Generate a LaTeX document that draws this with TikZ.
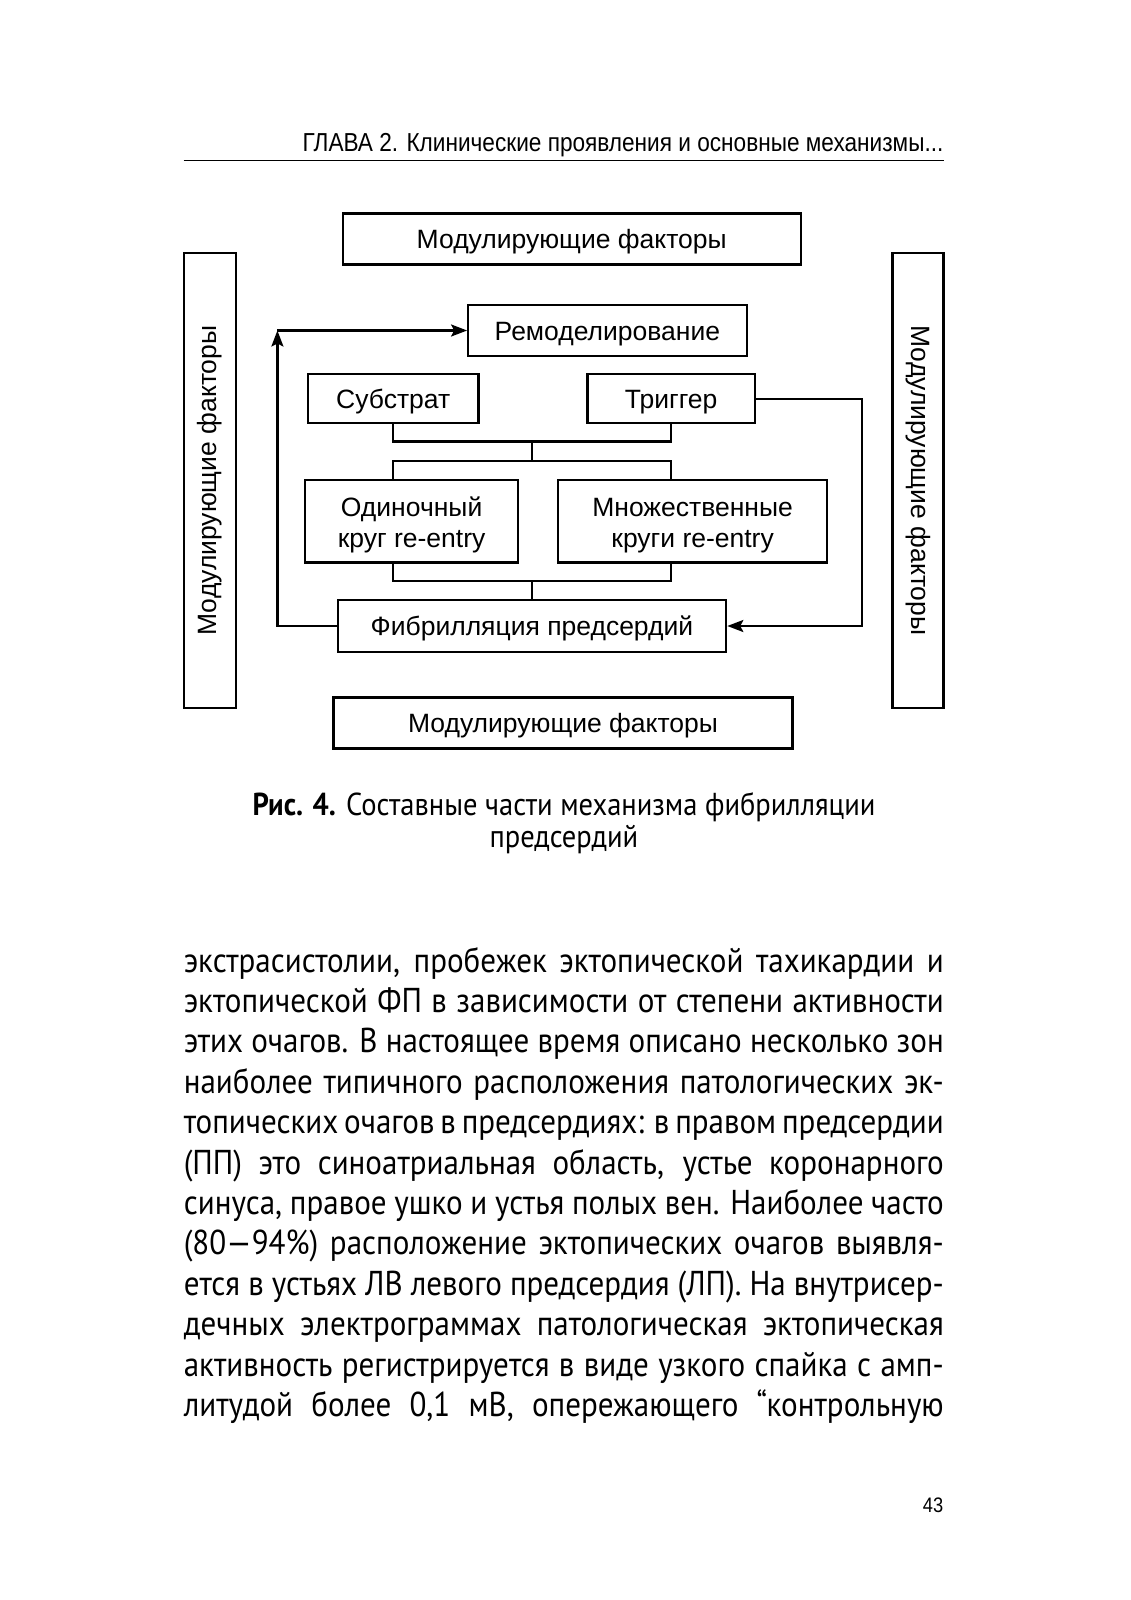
\documentclass[tikz,border=0pt]{standalone}
\usepackage{fontspec}
\setmainfont{Liberation Sans}
\newfontfamily\diagfont{Liberation Sans}
\newfontfamily\headfont{Liberation Sans}[FakeStretch=0.87]
\newfontfamily\bodyfont{PT Sans}[FakeStretch=0.9]
\newfontfamily\bodyboldfont{PT Sans Bold}[FakeStretch=0.9]
\usetikzlibrary{arrows.meta,calc}
\tikzset{
  boxbase/.style={draw, line width=2.2pt, inner sep=0pt, align=center,
    font=\diagfont\fontsize{26.5pt}{31pt}\selectfont},
  box/.style={boxbase, text height=19pt, text depth=0pt},
  conn/.style={draw, line width=2.2pt},
  tip/.style={-{Stealth[length=16pt,width=12pt,inset=3pt]}},
  bodyline/.style={anchor=base west, inner sep=0pt, font=\bodyfont\fontsize{34.5pt}{40pt}\selectfont},
  capline/.style={anchor=base, inner sep=0pt, font=\bodyfont\fontsize{31.7pt}{32pt}\selectfont},
}
\newcommand{\bl}[1]{\makebox[760pt][s]{#1}}
\newcommand{\twolines}[2]{\raisebox{-5pt}[\height][\depth]{\begin{tabular}{@{}c@{}}#1\\#2\end{tabular}}}
\begin{document}
\begin{tikzpicture}[x=1pt,y=-1pt]
\useasboundingbox (0,0) rectangle (1130,1600);
\fill[white] (0,0) rectangle (1130,1600);
% header
\node[anchor=base east, inner sep=0pt, font=\headfont\fontsize{26pt}{30pt}\selectfont] (head) at (943.5,151.5)
  {ГЛАВА 2. Клинические проявления и основные механизмы...};
\coordinate (hr1) at (183.6,160.7);
\coordinate (hr2) at (943.5,160.7);
\draw[line width=1.5pt] (hr1) -- (hr2);
% diagram boxes
\node[box, minimum width=458pt, minimum height=51pt] (modtop) at (571.7,239) {Модулирующие факторы};
\node[boxbase, minimum width=52pt, minimum height=454.6pt] (modleft) at (209.6,480.5) {\rotatebox{90}{Модулирующие факторы}};
\node[boxbase, minimum width=51pt, minimum height=454.6pt] (modright) at (918,480.5) {\rotatebox{-90}{Модулирующие факторы}};
\node[box, minimum width=278.4pt, minimum height=51pt] (remod) at (607.4,330.5) {Ремоделирование};
\node[box, minimum width=170.4pt, minimum height=48.8pt] (sub) at (393.2,398.6) {Субстрат};
\node[box, minimum width=167.3pt, minimum height=48.8pt] (trig) at (671.2,398.6) {Триггер};
\node[boxbase, minimum width=213.2pt, minimum height=82.4pt] (odin) at (411.6,521.2) {\twolines{Одиночный}{круг re-entry}};
\node[boxbase, minimum width=269.2pt, minimum height=82.4pt] (mult) at (692.6,521.2) {\twolines{Множественные}{круги re-entry}};
\node[box, minimum width=388.6pt, minimum height=52pt] (fib) at (531.9,626) {Фибрилляция предсердий};
\node[box, minimum width=459pt, minimum height=51pt] (modbot) at (563,723) {Модулирующие факторы};
% connectors
\coordinate (j1) at (531.9,441.4);
\coordinate (j2) at (531.9,460.7);
\coordinate (j3) at (531.9,580.7);
\coordinate (lc) at (277.4,330.5);
\coordinate (rc) at (862,626);
\draw[conn] (sub.south) |- (j1) -| (trig.south);
\draw[conn] (j1) -- (j2);
\draw[conn] (odin.north -| sub.south) |- (j2) -| (mult.north -| trig.south);
\draw[conn] (odin.south -| sub.south) |- (j3) -| (mult.south -| trig.south);
\draw[conn] (j3) -- (fib.north);
\draw[conn, tip] (fib.west) -| (lc);
\draw[conn, tip] (lc) -- (remod.west);
\draw[conn, tip] (trig.east) -| (rc) -- (fib.east);
% caption
\node[capline] (cap1) at (564,815.5)
  {{\bodyboldfont Рис. 4.} Составные части механизма фибрилляции};
\node[capline] (cap2) at (564,847) {предсердий};
% body text
\node[bodyline] (b1) at (183.6,972) {\bl{экстрасистолии, пробежек эктопической тахикардии и}};
\node[bodyline] (b2) at (183.6,1012.4) {\bl{эктопической ФП в зависимости от степени активности}};
\node[bodyline] (b3) at (183.6,1052.8) {\bl{этих очагов. В настоящее время описано несколько зон}};
\node[bodyline] (b4) at (183.6,1093.2) {\bl{наиболее типичного расположения патологических эк-}};
\node[bodyline] (b5) at (183.6,1133.6) {\bl{топических очагов в предсердиях: в правом предсердии}};
\node[bodyline] (b6) at (183.6,1174) {\bl{(ПП) это синоатриальная область, устье коронарного}};
\node[bodyline] (b7) at (183.6,1214.4) {\bl{синуса, правое ушко и устья полых вен. Наиболее часто}};
\node[bodyline] (b8) at (183.6,1254.8) {\bl{(80—94\%) расположение эктопических очагов выявля-}};
\node[bodyline] (b9) at (183.6,1295.2) {\bl{ется в устьях ЛВ левого предсердия (ЛП). На внутрисер-}};
\node[bodyline] (b10) at (183.6,1335.6) {\bl{дечных электрограммах патологическая эктопическая}};
\node[bodyline] (b11) at (183.6,1376) {\bl{активность регистрируется в виде узкого спайка с амп-}};
\node[bodyline] (b12) at (183.6,1416.4) {\bl{литудой более 0,1 мВ, опережающего “контрольную}};
% page number
\node[anchor=base east, inner sep=0pt, font=\headfont\fontsize{21pt}{24pt}\selectfont] (pnum) at (943.5,1512) {43};
\end{tikzpicture}
\end{document}
